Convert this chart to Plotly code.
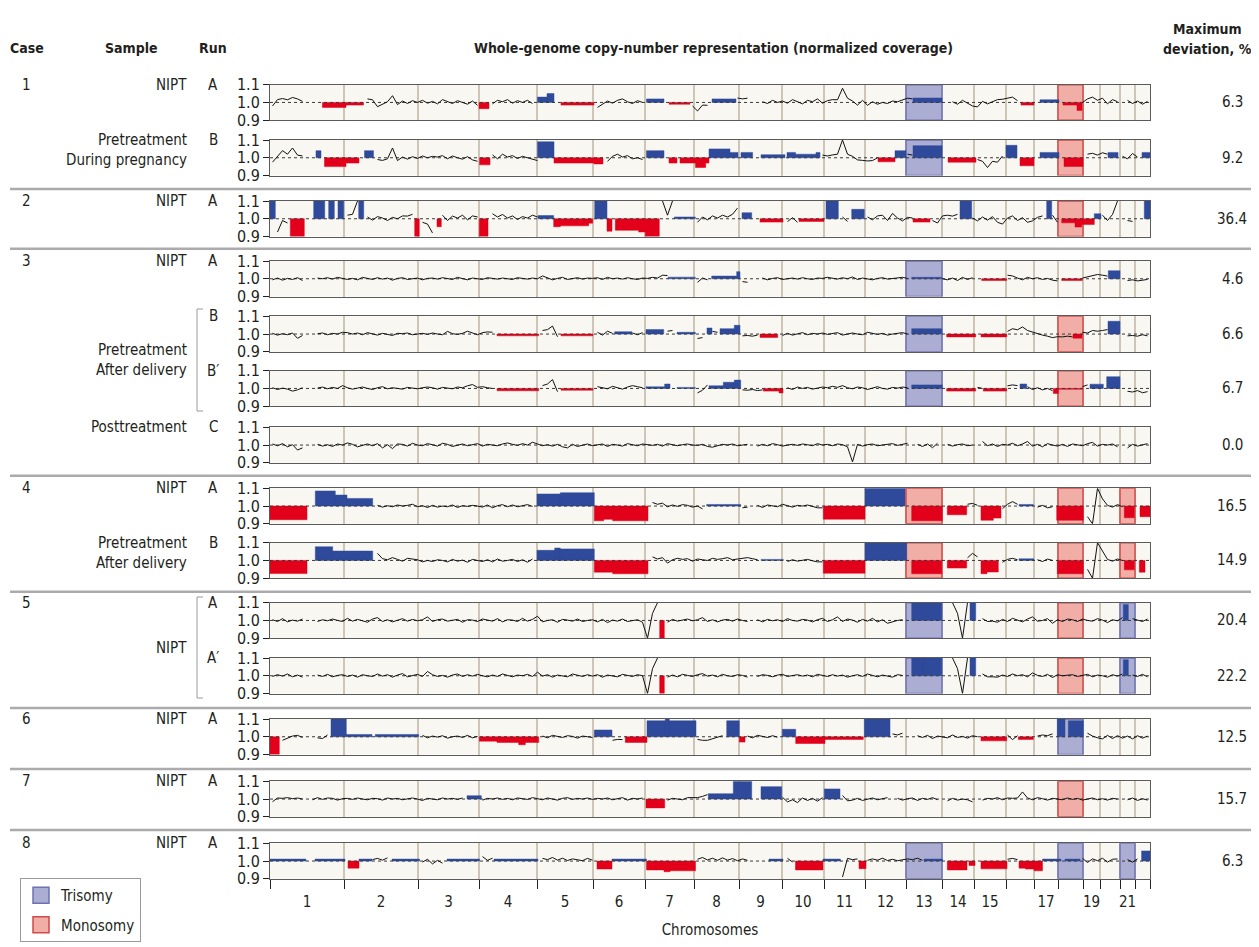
import plotly.graph_objects as go

N = None

# ---------------- data ----------------
# chromosome lengths (genome units, proportional to chromosome size)
chrom_len = [74, 74, 61, 58, 56, 52, 49, 45, 43, 42, 41, 41, 36, 32, 32, 28, 24, 25, 17, 20, 15, 15]
chrom_tick_text = ['1', '2', '3', '4', '5', '6', '7', '8', '9', '10', '11', '12', '13', '14', '15',
                   '', '17', '', '19', '', '21', '']
bin_size = 5  # genome units per coverage bin

case_labels = ['1', '', '2', '3', '', '', '', '4', '', '5', '', '6', '7', '8']
run_labels = ['A', 'B', 'A', 'A', 'B', 'B′', 'C', 'A', 'B', 'A', 'A′', 'A', 'A', 'A']
max_deviation = ['6.3', '9.2', '36.4', '4.6', '6.6', '6.7', '0.0', '16.5', '14.9', '20.4', '22.2',
                 '12.5', '15.7', '6.3']
# sample text: (text, row index, line offset)
sample_lines = [('NIPT', 0, 0), ('Pretreatment', 1, 0), ('During pregnancy', 1, 1),
                ('NIPT', 2, 0), ('NIPT', 3, 0), ('Pretreatment', 4, 1.7), ('After delivery', 4, 2.7),
                ('Posttreatment', 6, 0), ('NIPT', 7, 0), ('Pretreatment', 8, 0), ('After delivery', 8, 1),
                ('NIPT', 9, 2.25), ('NIPT', 11, 0), ('NIPT', 12, 0), ('NIPT', 13, 0)]

# highlighted chromosomes (chromosome number, T = trisomy, M = monosomy)
shade_c1A = [(13, 'T'), (18, 'M')]
shade_c1B = [(13, 'T'), (18, 'M')]
shade_c2A = [(18, 'M')]
shade_c3A = [(13, 'T')]
shade_c3B = [(13, 'T'), (18, 'M')]
shade_c3B2 = [(13, 'T'), (18, 'M')]
shade_c3C = []
shade_c4A = [(13, 'M'), (18, 'M'), (21, 'M')]
shade_c4B = [(13, 'M'), (18, 'M'), (21, 'M')]
shade_c5A = [(13, 'T'), (18, 'M'), (21, 'T')]
shade_c5A2 = [(13, 'T'), (18, 'M'), (21, 'T')]
shade_c6A = [(18, 'T')]
shade_c7A = [(18, 'M')]
shade_c8A = [(13, 'T'), (18, 'T'), (21, 'T')]

# called copy-number segments: (start, end, normalized coverage)
segs_c1A = [(52.4, 76, 0.972), (76, 93.5, 0.985), (209, 219, 0.965), (267.5, 277, 1.03), (277, 284, 1.05),
            (291, 324, 0.985), (376.5, 394, 1.02), (399, 420, 0.99), (442, 466, 1.02), (643, 672, 1.025),
            (751, 764, 0.985), (770, 789, 1.015), (793, 807, 0.985), (807, 812, 0.955)]
segs_c1B = [(46, 51, 1.04), (54.5, 76, 0.95), (76, 89, 0.97), (94.5, 103.5, 1.04), (209.6, 220, 0.96),
            (267.6, 284, 1.09), (284, 324, 0.97), (324, 333, 0.965), (376.5, 394, 1.04), (399, 407, 0.97),
            (410, 425.5, 0.97), (425.5, 435.7, 0.945), (435.7, 439, 0.97), (439, 460, 1.05), (460, 468, 1.03),
            (471, 482.6, 1.03), (491, 515, 1.017), (517, 525.5, 1.03), (525.5, 546, 1.02), (546, 550, 1.03),
            (608, 625, 0.977), (625, 636, 1.04), (643, 672, 1.068), (678, 706, 0.975), (736, 747, 1.07),
            (750, 764, 0.955), (770, 789, 1.03), (794, 813, 0.951), (838, 848, 1.03), (872, 880, 1.03)]
segs_c2A = [(0, 5.3, 1.1), (20.3, 34.3, 0.9), (43.7, 54.7, 1.1), (58.7, 64.3, 1.1), (68, 73.7, 1.1),
            (88.7, 93.7, 1.1), (144.7, 149.3, 0.9), (167, 171.3, 0.955), (209.3, 218, 0.9), (268, 283.7, 1.018),
            (283.7, 290.3, 0.955), (290.3, 318.7, 0.96), (318.7, 322.7, 0.975), (324.7, 337, 1.1),
            (337, 342, 0.93), (345.3, 368.7, 0.935), (368.7, 375.3, 0.925), (375.3, 389.3, 0.9),
            (404.3, 425.3, 1.01), (472, 481.7, 1.034), (490, 513, 0.981), (529, 554, 0.985), (556, 568.3, 1.1),
            (581.7, 594.3, 1.053), (643, 660, 0.981), (690, 701.7, 1.1), (776.7, 781.7, 1.1),
            (791.7, 805, 0.977), (805, 811.7, 0.953), (811.7, 824.3, 0.968), (824.3, 831, 1.028),
            (874.3, 880, 1.1)]
segs_c3A = [(398, 425.3, 1.009), (441.7, 466.7, 1.015), (466.7, 470, 1.04), (641.7, 671.7, 1.008),
            (711.7, 736.7, 0.99), (791.7, 812.3, 0.99), (838.3, 850, 1.045)]
segs_c3B = [(227, 268.7, 0.99), (291, 323, 0.99), (344.7, 362, 1.013), (376, 393.7, 1.025), (407, 425.3, 1.01),
            (437, 442, 1.034), (450, 464.3, 1.03), (464.3, 470, 1.049), (490, 507.7, 0.981),
            (641.7, 671.7, 1.03), (676.7, 705.7, 0.984), (711, 736.7, 0.984), (803, 812, 0.977),
            (838, 850, 1.072)]
segs_c3B2 = [(227, 268.7, 0.987), (291, 323, 0.99), (376, 394.7, 1.009), (394.7, 400, 1.025), (407, 425.3, 1.006),
             (439, 453.3, 1.015), (453.3, 464.3, 1.035), (464.3, 470.7, 1.047), (493.3, 509, 0.985),
             (509, 513, 0.975), (641.7, 672.3, 1.02), (676.7, 705.7, 0.985), (713.3, 736.7, 0.985),
             (750, 756.7, 1.025), (783.3, 788.3, 0.972), (788.3, 812.3, 0.995), (820, 833.3, 1.024),
             (836.7, 850, 1.066)]
segs_c3C = []
segs_c4A = [(0, 37, 0.923), (45.3, 65.3, 1.085), (65.3, 77, 1.062), (77, 102.7, 1.043), (267, 290.3, 1.068),
            (290.3, 324.3, 1.075), (324.3, 333.7, 0.917), (333.7, 342.7, 0.925), (342.7, 378, 0.917),
            (436.7, 470.7, 1.009), (553.3, 571.7, 0.926), (571.7, 595, 0.926), (595, 635, 1.1),
            (641.7, 672.3, 0.917), (677.3, 696.7, 0.951), (711, 723.3, 0.92), (723.3, 731, 0.932),
            (749, 763.3, 1.009), (786.7, 793.3, 0.92), (793.3, 813.3, 0.92), (854.3, 864.3, 0.934),
            (870, 880, 0.94)]
segs_c4B = [(0, 37, 0.926), (45.3, 62.7, 1.077), (62.7, 102.7, 1.053), (267, 284.7, 1.057), (284.7, 290.3, 1.07),
            (290.3, 324.3, 1.065), (324.3, 342.7, 0.934), (342.7, 378, 0.925), (491, 513.3, 1.006),
            (553.3, 570, 0.928), (570, 595, 0.928), (595, 636.7, 1.1), (641.7, 671.7, 0.925),
            (677.3, 696.7, 0.957), (711, 717, 0.925), (717, 728.3, 0.935), (749, 764, 1.009),
            (787.3, 813.3, 0.925), (854.3, 864.3, 0.947), (869.3, 875, 0.934)]
segs_c5A = [(389.7, 394.3, 0.9), (641.7, 671.7, 1.1), (700, 705.7, 1.1), (853.3, 858.3, 1.09)]
segs_c5A2 = [(389.7, 394.3, 0.9), (641.7, 653.3, 1.1), (653.3, 671.7, 1.1), (700, 705.7, 1.1),
             (853.3, 858.3, 1.09)]
segs_c6A = [(0, 9.3, 0.9), (61, 76.3, 1.1), (76.3, 102, 1.013), (105.3, 148.7, 1.013), (209.3, 227, 0.975),
            (227, 248.7, 0.968), (248.7, 255.3, 0.955), (255.3, 268.7, 0.968), (324.3, 342, 1.038),
            (355.3, 377, 0.968), (377, 395.3, 1.09), (395.3, 399.3, 1.1), (399.3, 426, 1.09),
            (456.7, 469.3, 1.09), (469.3, 475, 0.97), (512.3, 525.7, 1.042), (525.7, 555, 0.962),
            (555, 593.3, 0.985), (594.3, 606.7, 1.1), (606.7, 620, 1.1), (711, 736.7, 0.977),
            (748.3, 763.3, 0.985), (787.3, 795, 1.1), (798.3, 813.3, 1.09)]
segs_c7A = [(197, 211.3, 1.019), (376, 394.7, 0.95), (438.3, 463.3, 1.03), (463.3, 481.7, 1.1),
            (491, 511.7, 1.07), (554.3, 570, 1.057)]
segs_c8A = [(0, 36, 1.011), (45, 75, 1.011), (78, 89, 0.96), (89, 102, 1.011), (122, 149.6, 1.011),
            (177, 209.6, 1.011), (224, 268, 1.011), (327, 342, 0.955), (342, 376.5, 1.011), (376.5, 394, 0.95),
            (394, 400, 0.94), (400, 425.5, 0.945), (499, 513, 1.011), (525.5, 553, 0.95), (553, 570.4, 1.011),
            (589, 596, 0.957), (654, 672.4, 1.011), (677.3, 697, 0.95), (699, 705, 0.975), (711, 737, 0.956),
            (749, 755.5, 0.96), (755.5, 764, 0.955), (764, 772.5, 0.945), (772.5, 791, 1.011),
            (795, 810, 1.011), (871.6, 880, 1.057)]

# binned coverage deviation from 1.0 (thousandths), bin_size units per bin; None = no data
cov_c1A = [-20, 16, 22, 15, 28, 20, 6, N, N, 16, 0, 0, 0, 0, 0, 0,
           0, 0, 0, 20, 15, -24, -10, 4, 38, -12, 8, -6, 10, 0, 12, -4,
           6, -8, 16, 4, -6, 10, 0, -10, 8, -16, 0, 0, -8, 12, 4, 16,
           -4, 10, 0, 12, -6, 8, 0, 0, 0, 15, 0, 0, 0, 0, 0, 0,
           0, -28, -12, 8, -4, 12, 20, 4, -6, 10, 0, 0, 0, 0, 0, -15,
           0, 0, 0, 0, -20, -48, -15, -16, 0, 0, 0, 0, 0, 25, 20, 24,
           N, N, 4, -6, 12, 0, 8, -4, 16, 6, -8, 12, 4, 20, -4, 10,
           16, 15, 80, 24, 8, -15, 12, -16, 4, -10, 0, -6, 8, 4, 16, 24,
           20, 0, 0, 0, 0, 0, 0, N, 4, -10, 12, -6, -20, -25, 6, -8,
           4, 16, 18, 25, 30, 10, 0, 0, 0, 4, 0, 0, 0, 0, -10, 0,
           0, 0, 0, 20, 30, 12, 24, -8, 16, 4, N, 12, -6, 8, -10, 6]
cov_c1B = [-25, 10, 40, 20, 55, 15, 10, N, N, 0, 75, 0, 0, 0, 0, 0,
           0, 0, 25, 0, 0, -10, -15, -6, 55, -16, 4, -8, 6, -4, 10, 0,
           8, 4, 12, -6, 10, 0, -8, 6, -12, -20, 0, 0, 16, -6, 20, 4,
           12, -4, 8, 0, -10, -16, 0, 0, 0, 0, 0, 0, 0, 0, 0, 0,
           0, 0, 0, -20, 8, 20, 4, 12, -6, 0, -10, 0, 0, 0, 0, -12,
           0, -15, 0, 0, 0, 0, 0, 0, 0, 0, 0, 0, 0, 0, 0, 0,
           0, N, 0, 0, 0, 0, 0, 0, 0, 0, 0, 0, 0, 0, 15, 10,
           16, 20, 100, 20, 8, -12, -15, -18, -16, 0, 0, 0, 0, 0, 0, 20,
           15, 0, 0, 0, 0, 0, 0, N, 0, 0, 0, 0, 0, -10, -20, -55,
           -20, -25, 10, 0, 0, 20, 0, 0, 0, 20, 0, 0, 0, 0, -15, 0,
           0, 0, 0, 20, 25, 15, 28, 20, 0, 0, 8, -6, 24, 4, 0, 0]
cov_c2A = [0, -75, -10, -24, 0, 0, 0, -100, N, 0, 0, N, 0, N, 0, 20,
           25, 100, 0, 10, -8, 12, 4, -10, 8, 0, 16, 15, 25, 0, -20, -30,
           -80, 0, 20, -10, 15, 4, 20, -6, 16, 10, 0, 0, 28, 10, 24, 4,
           16, -4, 12, 4, 20, 10, 0, 0, 0, 0, 0, 0, 0, 0, 0, 0,
           0, 0, 0, 0, -20, 0, 0, 0, 0, 0, 0, 0, 0, 0, 100, 20,
           100, 0, 0, 0, 0, -20, 10, -6, 16, 4, 20, 10, 25, 60, 0, 0,
           N, N, 0, 0, 0, 0, 0, -16, 6, -20, 0, 0, 0, 0, 0, 0,
           0, 0, 10, -15, 0, 0, 0, 10, -6, 16, 20, -10, 30, 4, -12, 8,
           4, 0, 0, 0, -10, -24, 16, 20, 15, 25, 0, 0, 4, -12, 10, -8,
           12, -20, -30, 4, 16, -10, 6, -20, -12, 8, 16, 0, 20, -20, 0, 0,
           0, 0, 0, 0, 0, 0, 20, -10, 24, 100, N, -10, -15, N, N, 0]
cov_c3A = [-6, 4, -8, 2, -4, 6, -10, N, N, 4, 0, 6, -2, 8, 4, -4,
           2, -6, 8, 0, -4, 6, -2, 4, -8, 2, 6, -4, 0, 4, -6, 2,
           4, -2, 6, 0, -4, 8, 2, -6, 4, 0, -4, 6, 2, -2, 4, 0,
           -4, 6, 2, -2, 4, 0, 16, 4, -6, 2, 8, -4, 0, 6, -2, 4,
           2, 6, -4, 8, 0, 4, -2, 6, 0, -4, 4, 2, 8, 4, 20, 18,
           0, 0, 0, 0, 0, -20, 4, -6, 0, 0, 0, 0, 0, 0, -16, -20,
           N, N, 4, -6, 2, 6, -4, 0, 4, -2, 6, 0, -4, 4, 2, 8,
           4, -2, 6, 0, 10, -4, 4, 0, -6, 2, 6, -2, 0, 4, 8, 2,
           0, 0, 0, 0, 0, 0, 0, -6, 4, -10, 8, -4, 6, N, 0, 0,
           0, 0, 0, 20, 16, 4, -6, 8, 0, 6, -4, 2, -8, -12, 0, 0,
           0, 0, 4, 10, 20, 24, 20, 15, 0, 0, N, -10, -6, -12, -8, -4]
cov_c3B = [4, -6, 2, -4, 6, -24, -8, N, N, 2, 6, -4, 4, 0, 10, 8,
           0, 6, -4, 8, 2, -6, 4, 0, -8, 4, 2, 6, -4, 0, 4, -2,
           6, 0, -4, 15, 2, -2, 4, 16, 6, -4, 8, 12, 10, 0, 0, 0,
           0, 0, 0, 0, 0, 0, 20, 25, 45, -15, 0, 0, 0, 0, 0, 0,
           0, 10, -6, 16, 4, 0, 0, 0, 6, -4, 8, 0, 0, 0, 0, 16,
           20, 10, 0, 0, 0, -25, -20, 0, 15, 10, 0, 0, 0, 0, -10, -8,
           -12, -6, 0, 0, 0, 0, -8, 4, -6, 2, 8, -4, 4, 0, 6, -2,
           4, 8, -6, 2, 6, 0, -4, 10, 2, -2, 4, -6, 0, 4, 8, 0,
           0, 0, 0, 0, 0, 0, 0, 0, 0, 0, 0, 0, 0, 4, 0, 0,
           0, 0, 0, 15, 30, 24, 40, 20, 10, 4, -6, -12, -20, -15, -16, -12,
           -16, 0, 10, 6, 20, 16, 20, 25, 0, 0, N, -10, -8, -12, -4, -10]
cov_c3B2 = [4, -6, 2, -4, -15, -8, 4, N, N, 2, 8, -2, 6, 0, 16, 4,
            -4, 2, 8, 0, -6, 4, 10, -2, 4, 0, -4, 6, 2, -2, 4, 8,
            4, -4, 6, 2, -2, 8, 4, 15, 22, 6, 10, 4, 0, 0, 0, 0,
            0, 0, 0, 0, 0, 0, 16, 25, 50, -18, 0, 0, 0, 0, 0, 0,
            0, 10, 4, -2, 12, 6, -4, 8, 16, 10, 4, 0, 0, 0, 0, 0,
            20, 0, 0, 0, 0, -25, -10, 20, 0, 0, 0, 0, 0, 0, -8, -10,
            -6, -12, -8, 0, 0, 0, 0, 4, -6, 8, 0, 6, -4, 2, 8, 4,
            12, 6, 16, 4, -2, 8, 4, -6, 2, 10, 0, -4, 6, 2, 8, 4,
            0, 0, 0, 0, 0, 0, 0, 0, 0, 0, 0, 0, 0, 6, 0, 0,
            0, 0, 0, 15, 20, 16, 0, 10, -6, 4, -8, 0, -12, 0, 0, 0,
            0, 0, 10, 20, 0, 0, 0, 0, 0, 0, N, -16, -20, -12, -24, -18]
cov_c3C = [6, -4, 8, -10, 2, -28, -16, N, N, 4, -6, 2, -8, 6, 0, 12,
           4, -10, 0, 6, -4, 8, -16, 2, -20, 6, 4, -6, 10, 0, -4, 8,
           2, -6, 10, 4, -8, 0, 6, -4, 2, 8, -6, 4, 0, -4, 6, 12,
           4, -2, 8, 0, 16, 6, -4, 2, -6, 4, -10, -16, 4, -8, 0, 6,
           -4, 2, 6, -8, 4, 0, -6, 8, 2, -4, 6, 0, -2, 4, -6, 8,
           4, -4, 2, 6, 0, -2, 4, -8, -12, -6, 4, 0, 6, -4, 2, 4,
           N, -6, 4, -4, 8, 2, -6, 0, 4, -2, 6, 2, -4, 8, 0, 4,
           -4, 6, 2, -10, -95, 4, -6, 2, 6, -4, 0, 4, 8, -2, 4, 10,
           N, 4, -8, 6, -15, 10, N, 4, -6, 2, 6, -4, 0, N, 20, -4,
           6, -8, 4, 0, 10, -4, 6, 20, -6, 4, -10, 8, 0, -6, 4, -8,
           6, 2, -4, 8, 15, -6, 4, 0, 6, -10, N, -16, 4, -6, 0, 8]
cov_c4A = [0, 0, 0, 0, 0, 0, 0, N, N, 0, 0, 0, 0, 0, 0, 0,
           0, 0, 0, 0, 0, 4, -6, 2, -4, 6, 0, 4, 10, -4, 2, -8,
           4, -6, 0, -4, 6, -8, 2, -2, 4, 0, -6, 6, -10, 2, 8, -4,
           6, -4, 0, 8, -2, 0, 0, 0, 0, 0, 0, 0, 0, 0, 0, 0,
           0, 0, 0, 0, 0, 0, 0, 0, 0, 0, 0, 0, 20, 10, 16, -4,
           6, -2, 8, 4, -6, 0, -16, 0, 0, 0, 0, 0, 0, 0, -10, -6,
           N, 4, -8, 6, 0, -4, 10, 2, -6, 4, 0, 6, -4, -10, -10, 0,
           0, 0, 0, 0, 0, 0, 0, 0, 0, 0, 0, 0, 0, 0, 0, N,
           0, 0, 0, 0, 0, 0, -20, 0, 0, 0, 0, 10, 15, 4, 0, 0,
           0, 0, -15, 10, 25, 10, 0, 0, 0, -6, 4, -10, -4, 0, 0, 0,
           0, 0, 0, -60, -100, 100, 40, 4, -6, 8, -4, 0, 0, N, 0, 0]
cov_c4B = [0, 0, 0, 0, 0, 0, 0, N, N, 0, 0, 0, 0, 0, 0, 0,
           0, 0, 0, 0, 0, 40, 10, 4, 16, 6, -4, 12, 8, 4, -8, 0,
           -6, 4, 0, -8, 6, -4, 2, -10, 6, 0, -6, 4, -8, 8, -4, 0,
           6, -6, 4, -10, 8, 0, 0, 0, 0, 0, 0, 0, 0, 0, 0, 0,
           0, 0, 0, 0, 0, 0, 0, 0, 0, 0, 0, 0, 20, 8, 16, -15,
           4, 12, 6, 10, -4, 8, 4, 0, 12, 6, 10, 16, 4, 8, 12, 16,
           10, 4, 0, 0, 0, 0, 0, -6, 4, -4, 0, 6, -2, -8, -8, 0,
           0, 0, 0, 0, 0, 0, 0, 0, 0, 0, 0, 0, 0, 0, 0, N,
           0, 0, 0, 0, 0, 0, -20, 0, 0, 0, 0, 15, 40, 20, 0, 0,
           0, 0, -10, 6, 12, 4, 0, 0, 0, 4, -6, 8, 0, 0, 0, 0,
           0, 0, 0, -50, -100, 100, 50, 6, -4, 8, 0, 0, 0, N, 0, -40]
cov_c5A = [4, -6, 10, -8, 2, -4, 8, N, N, -6, 4, -2, 8, 0, -6, 12,
           -4, 6, 0, -10, 8, 16, -6, 4, -8, 2, 10, -4, 6, -2, 4, 20,
           -6, 4, 8, -4, 0, 6, -10, 4, 2, -6, 8, 0, -4, 10, -8, 4,
           2, -6, 12, -4, 6, 24, -8, 0, 4, -10, 6, 2, -4, 8, -6, 0,
           4, -8, 6, -12, 2, -4, 8, -6, 0, 4, -10, -100, 40, 100, 0, -10,
           6, -4, 0, 8, -2, 4, 16, -6, 4, -8, 2, 6, -4, 8, 0, -6,
           N, 4, -8, 6, -2, 4, -6, 10, 0, -4, 6, 2, -8, 4, 12, -6,
           4, 20, -6, 8, 2, -10, 6, -4, 12, -8, 4, -16, -6, 0, 4, N,
           0, 0, 0, 0, 0, 0, N, N, 100, 40, -100, 100, 0, N, 10, -6,
           -4, -10, 6, -6, 12, 4, -8, 8, 20, -4, 0, 10, -16, 4, -6, 8,
           4, -6, 8, 0, -4, 10, 2, -12, 4, -2, 16, 0, 10, 4, -6, 8]
cov_c5A2 = [-4, 6, -2, 10, -6, 4, -8, N, N, 4, -4, 8, -6, 2, 6, -4,
            4, -8, 6, 0, -4, 10, -2, 6, -8, 4, 12, -6, 2, 8, -4, 24,
            6, -4, 2, -8, 4, 10, -4, 6, -2, 8, 0, -6, 4, -4, 10, 2,
            -6, 4, 0, 8, -4, 20, -2, 6, -8, 4, 0, -6, 10, 2, -4, 6,
            -2, 6, -8, 4, 0, -6, 8, 2, -4, 6, 0, -100, 40, 100, 0, -8,
            4, -6, 8, 2, -4, 6, 12, -2, 4, -6, 8, 0, -4, 6, 2, -8,
            N, -4, 6, 2, -6, 4, 8, -4, 0, 6, -2, 4, -6, 8, 2, -4,
            6, -2, 4, -8, 0, 6, -4, 10, 2, -6, 4, 0, -8, 6, 2, N,
            0, 0, 0, 0, 0, 0, N, N, 100, 40, -100, 100, 0, N, 10, -6,
            -6, -8, 4, -4, 10, 0, 6, -6, 16, 2, -4, 8, -10, 6, 0, 4,
            6, -4, 2, 8, -6, 4, 0, -8, 6, -2, 10, 0, 4, -4, 8, -6]
cov_c6A = [0, 0, -20, -10, 4, 8, -4, N, N, -6, -10, 10, 0, 0, 0, 0,
           0, 0, 0, 0, 4, 0, 0, 0, 0, 0, 0, 0, 0, 0, 8, -6,
           4, -2, 6, -8, 0, 4, -4, 8, -6, 2, -4, 4, 0, 0, 0, 0,
           0, 0, 0, 0, 0, 0, 4, -6, 8, 0, -4, 6, 2, -8, 4, 0,
           -4, 0, 0, 0, -20, -15, -16, 0, 0, 0, 0, 0, 0, 0, 0, 0,
           0, 0, 0, 0, 0, -15, -20, -20, -10, 0, 6, 0, 0, 0, 0, 4,
           -6, 8, 0, -4, 6, -2, 0, 0, 0, 0, 0, 0, 0, 0, 0, 0,
           0, 0, 0, 0, 0, 0, 0, 0, 0, 0, 0, 0, 16, 10, 20, N,
           N, 6, -4, 8, -10, 4, 0, -6, 10, -4, 2, -8, 6, 0, 0, 0,
           0, 0, 0, 10, -16, 6, 0, 0, 0, 4, 10, 6, 16, 0, 0, -50,
           0, 0, 0, 20, 4, -6, -12, 8, -10, 6, -8, 4, -12, 6, -8, 4]
cov_c7A = [-15, 6, 4, 8, 2, 6, 0, N, -4, 8, -2, 6, 4, -6, 2, 4,
           -2, 6, 0, -4, 4, 2, -6, 6, 0, 4, -4, 2, 6, 0, -8, 4,
           2, -4, 6, 0, 4, -2, 6, 0, 0, 0, -6, 4, 0, 6, -2, 4,
           -4, 6, 2, -2, 8, 0, -4, 6, 2, -6, 4, 8, -2, 4, 0, 6,
           -2, 4, 0, 6, -4, 2, 8, -6, 4, 0, 6, 0, 0, 0, 0, -6,
           4, 0, -4, 8, 6, 8, 15, 25, 0, 0, 0, 0, 0, 0, 0, 0,
           N, N, 0, 0, 0, 0, 10, -16, -4, -20, 6, -8, 4, -12, 8, 0,
           0, 0, 20, -10, -6, 4, -8, 0, 6, -4, 4, 8, N, 4, -6, 2,
           6, -8, 4, -2, 8, -4, N, -10, 4, -6, 0, -4, -16, N, -6, 4,
           0, 8, -4, 6, 4, 6, 40, 6, -4, 8, 2, -6, 4, 0, -4, 6,
           -2, 4, -6, 0, 6, -4, 2, -6, 4, 0, N, -4, 6, -8, 2, -6]
cov_c8A = [0, 0, 0, 0, 0, 0, 0, N, N, 0, 0, 0, 0, 0, 0, 25,
           0, 0, 0, 0, 8, 15, 5, 18, 0, 0, 0, 0, 0, 0, -6, 10,
           -16, 4, -12, 0, 0, 0, 0, 0, 0, 0, 25, 4, 16, 0, 0, 0,
           0, 0, 0, 0, 0, 0, 15, 8, 20, 5, 16, 3, 12, 6, 2, 15,
           5, 0, 0, 0, 0, 0, 0, 0, 0, 0, 0, 0, 0, 0, 0, 0,
           0, 0, 0, 0, 0, 10, 20, 6, 16, 4, 18, 5, 14, 2, 12, 4,
           N, N, N, 5, 0, 0, 0, 15, -5, 0, 0, 0, 0, 0, 0, 0,
           0, 0, -90, 15, 8, 12, 0, 4, 12, 5, 16, 3, 10, 2, 8, 12,
           8, 16, 4, 0, 0, 0, 0, 0, 0, 0, 0, 0, 0, -10, 0, 0,
           0, 0, 0, 10, 15, 8, 0, 0, 0, 0, 0, 0, 0, 0, 5, 0,
           0, 0, 15, -8, 12, 2, 16, -6, 10, 12, N, 8, -6, 12, 0, 0]

rows = [
    (segs_c1A, cov_c1A, shade_c1A), (segs_c1B, cov_c1B, shade_c1B), (segs_c2A, cov_c2A, shade_c2A),
    (segs_c3A, cov_c3A, shade_c3A), (segs_c3B, cov_c3B, shade_c3B), (segs_c3B2, cov_c3B2, shade_c3B2),
    (segs_c3C, cov_c3C, shade_c3C), (segs_c4A, cov_c4A, shade_c4A), (segs_c4B, cov_c4B, shade_c4B),
    (segs_c5A, cov_c5A, shade_c5A), (segs_c5A2, cov_c5A2, shade_c5A2), (segs_c6A, cov_c6A, shade_c6A),
    (segs_c7A, cov_c7A, shade_c7A), (segs_c8A, cov_c8A, shade_c8A),
]

# ---------------- layout constants (screen pixels) ----------------
OFF = 8                        # page body margin
W, H = 1259 - OFF, 947 - OFF   # figure size so that it fills the window
PX0, PX1 = 270, 1150
panel_top = [84.7, 140, 201, 261, 316.3, 370.7, 427.3, 488.3, 542.7, 602.7, 658, 719, 781.3, 843.3]
panel_h = 35.5
separators = [189, 248.7, 475.7, 591.7, 708, 769, 830]
FONT = "Liberation Sans Narrow, DejaVu Sans Condensed, Arial Narrow, sans-serif"
TXT = '#231f20'
BLUE = '#2f4a9a'
RED = '#e2001a'
TRI_FILL, TRI_LINE = '#abadd3', '#6d72b3'
MONO_FILL, MONO_LINE = '#f1aea6', '#cf4a4a'
BG = '#f8f7f1'
GRID = '#cdc6b7'


def px_x(x):
    return (x - OFF) / W


def px_y(y):
    return 1 - (y - OFF) / H


bounds = [0]
for L in chrom_len:
    bounds.append(bounds[-1] + L)
total = bounds[-1]
mids = [(bounds[i] + bounds[i + 1]) / 2 for i in range(len(chrom_len))]

fig = go.Figure()

for k, (segs, cov, shade) in enumerate(rows):
    xa = 'x' if k == 0 else f'x{k + 1}'
    ya = 'y' if k == 0 else f'y{k + 1}'
    # trisomy / monosomy chromosome highlight
    for kind, fc, lc in (('T', TRI_FILL, TRI_LINE), ('M', MONO_FILL, MONO_LINE)):
        xs, ys = [], []
        for chrom, t in shade:
            if t != kind:
                continue
            s, e = bounds[chrom - 1], bounds[chrom]
            xs += [s, e, e, s, s, None]
            ys += [0.9, 0.9, 1.1, 1.1, 0.9, None]
        if xs:
            fig.add_trace(go.Scatter(x=xs, y=ys, mode='lines', fill='toself', fillcolor=fc,
                                     line=dict(color=lc, width=1.5), hoverinfo='skip',
                                     showlegend=False, xaxis=xa, yaxis=ya))
    # copy number segments as filled blocks from 1.0 (drawn above the highlight)
    for up, col in ((True, BLUE), (False, RED)):
        xs, ys = [], []
        for a, b, v in segs:
            if (v > 1) != up:
                continue
            xs += [a, a, b, b, a, None]
            ys += [1, v, v, 1, 1, None]
        if xs:
            fig.add_trace(go.Scatter(x=xs, y=ys, mode='lines', fill='toself', fillcolor=col,
                                     line=dict(color=col, width=0.5), hoverinfo='skip',
                                     showlegend=False, xaxis=xa, yaxis=ya))
    # reference level
    fig.add_trace(go.Scatter(x=[0, total], y=[1, 1], mode='lines',
                             line=dict(color='#3a3a3a', width=1, dash='dot'), hoverinfo='skip',
                             showlegend=False, xaxis=xa, yaxis=ya))
    # normalized coverage line (outside called segments)
    lx, ly = [], []
    for i, d in enumerate(cov):
        xc = bin_size * i + bin_size / 2
        inside = any(a <= xc <= b for a, b, v in segs)
        lx.append(xc)
        ly.append(None if (d is None or inside) else 1 + d / 1000)
    fig.add_trace(go.Scatter(x=lx, y=ly, mode='lines', line=dict(color='#111111', width=1),
                             connectgaps=False, hoverinfo='skip', showlegend=False,
                             xaxis=xa, yaxis=ya))

    top = panel_top[k]
    last = (k == len(rows) - 1)
    xaxis = dict(domain=[px_x(PX0), px_x(PX1)], anchor=ya, range=[0, total], showgrid=False,
                 zeroline=False, showline=True, mirror=True, linecolor='#5a5a5a', linewidth=1,
                 fixedrange=True, automargin=False,
                 minor=dict(tickmode='array', tickvals=bounds if last else bounds[1:-1],
                            showgrid=True, gridcolor=GRID, gridwidth=1.6,
                            ticks='outside' if last else '', ticklen=9, tickcolor='#222', tickwidth=1))
    if last:
        xaxis.update(tickmode='array', tickvals=mids, ticktext=chrom_tick_text, ticks='outside',
                     ticklen=9, tickcolor='rgba(0,0,0,0)', showticklabels=True,
                     tickfont=dict(family=FONT, size=15, color=TXT),
                     title=dict(text='Chromosomes', font=dict(family=FONT, size=15, color=TXT), standoff=14))
    else:
        xaxis.update(showticklabels=False, ticks='')
    yaxis = dict(domain=[px_y(top + panel_h), px_y(top)], anchor=xa, range=[0.9, 1.1],
                 tickmode='array', tickvals=[0.9, 1.0, 1.1], ticktext=['0.9', '1.0', '1.1'],
                 ticks='outside', ticklen=6, tickcolor='#222', showgrid=False, zeroline=False,
                 showline=True, mirror=True, linecolor='#5a5a5a', linewidth=1, fixedrange=True,
                 automargin=False, tickfont=dict(family=FONT, size=16, color=TXT))
    fig.layout['xaxis' if k == 0 else f'xaxis{k + 1}'] = xaxis
    fig.layout['yaxis' if k == 0 else f'yaxis{k + 1}'] = yaxis

# legend entries
fig.add_trace(go.Scatter(x=[None], y=[None], mode='markers', name='Trisomy', legendgroup='T',
                         marker=dict(symbol='square', size=18, color=TRI_FILL,
                                     line=dict(color=TRI_LINE, width=1.5))))
fig.add_trace(go.Scatter(x=[None], y=[None], mode='markers', name='Monosomy', legendgroup='M',
                         marker=dict(symbol='square', size=18, color=MONO_FILL,
                                     line=dict(color=MONO_LINE, width=1.5))))

ann = []


def text(x, y, s, size=15, xanchor='center', bold=False):
    ann.append(dict(x=px_x(x), y=px_y(y), xref='paper', yref='paper', text=f'<b>{s}</b>' if bold else s,
                    showarrow=False, xanchor=xanchor, yanchor='middle',
                    font=dict(family=FONT, size=size, color=TXT)))


text(27, 48, 'Case', size=14, bold=True)
text(131, 48, 'Sample', size=14, bold=True)
text(213, 48, 'Run', size=14, bold=True)
text(713, 48, 'Whole-genome copy-number representation (normalized coverage)', size=14, bold=True)
text(1207, 29, 'Maximum', size=14, bold=True)
text(1207, 49, 'deviation, %', size=14, bold=True)

for k in range(len(rows)):
    top = panel_top[k]
    if case_labels[k]:
        text(26, top, case_labels[k])
    text(213, top, run_labels[k])
    text(1232, top + panel_h / 2, max_deviation[k])
for s, k, off in sample_lines:
    text(189, panel_top[k] + off * 20, s, xanchor='right')

shapes = []
for y in separators:
    shapes.append(dict(type='line', xref='paper', yref='paper', x0=px_x(10), x1=1, y0=px_y(y), y1=px_y(y),
                       line=dict(color='#ababab', width=2.5)))
for y0, y1 in ((309, 411), (597, 698)):
    shapes.append(dict(type='path', xref='paper', yref='paper',
                       path=f'M {px_x(203)} {px_y(y0)} L {px_x(197)} {px_y(y0)} L {px_x(197)} {px_y(y1)} '
                            f'L {px_x(203)} {px_y(y1)}',
                       line=dict(color='#9a9a9a', width=1)))

fig.update_layout(
    width=W, height=H, margin=dict(l=0, r=0, t=0, b=0, autoexpand=False),
    paper_bgcolor='white', plot_bgcolor=BG,
    font=dict(family=FONT, size=15, color=TXT),
    annotations=ann, shapes=shapes,
    showlegend=True,
    legend=dict(x=px_x(20), y=px_y(878), xanchor='left', yanchor='top', bgcolor='white',
                bordercolor='#9a9a9a', borderwidth=1, font=dict(family=FONT, size=15, color=TXT),
                itemsizing='trace', tracegroupgap=7),
)

fig.write_html('out.html')
